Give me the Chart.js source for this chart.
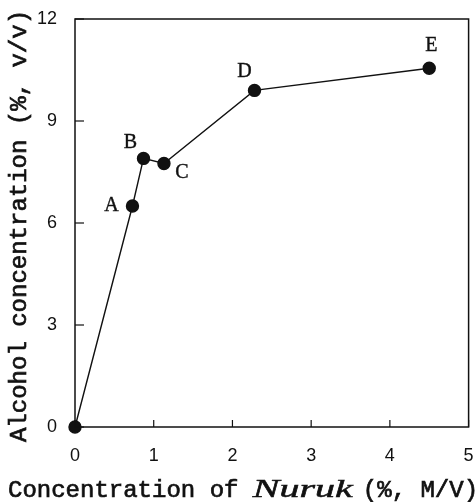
<!DOCTYPE html>
<html>
<head>
<meta charset="utf-8">
<script src="https://cdn.jsdelivr.net/npm/chart.js@4.4.1/dist/chart.umd.min.js"></script>
<style>
  body { margin: 0; background: #fff; }
  #wrap { width: 476px; height: 502px; }
</style>
</head>
<body>
<div id="wrap"><canvas id="nurukChart" width="476" height="502"></canvas></div>
<script>
// data
const nurukConc = [0, 0.73, 0.87, 1.13, 2.28, 4.5];
const alcoholConc = [0, 6.5, 7.9, 7.75, 9.9, 10.55];
const pointNames = ['', 'A', 'B', 'C', 'D', 'E'];
const xTicks = [0, 1, 2, 3, 4, 5];
const yTicks = [0, 3, 6, 9, 12];

// label offsets from the point centre (dx, dy)
const labelOffsets = [[0, 0], [-21, 0], [-13, -16], [18, 9], [-10, -19], [2, -23]];

const INK = '#111';

// text with a thin outline so it looks a bit heavier than regular
function heavyText(ctx, text, x, y) {
  ctx.fillText(text, x, y);
  ctx.strokeText(text, x, y);
}

// frame, inward ticks, point labels and axis titles
const paperPlugin = {
  id: 'paper',
  afterDraw(chart) {
    const ctx = chart.ctx;
    const area = chart.chartArea;
    const xs = chart.scales.x;
    const ys = chart.scales.y;

    ctx.save();
    ctx.strokeStyle = INK;
    ctx.lineWidth = 1.5;
    ctx.strokeRect(area.left, area.top, area.right - area.left, area.bottom - area.top);

    ctx.lineWidth = 1.2;
    yTicks.forEach(v => {
      const py = ys.getPixelForValue(v);
      ctx.beginPath();
      ctx.moveTo(area.left, py);
      ctx.lineTo(area.left + 9, py);
      ctx.stroke();
    });
    xTicks.forEach(v => {
      const px = xs.getPixelForValue(v);
      ctx.beginPath();
      ctx.moveTo(px, area.bottom);
      ctx.lineTo(px, area.bottom - 7);
      ctx.stroke();
    });

    // point letters
    const meta = chart.getDatasetMeta(0);
    ctx.fillStyle = INK;
    ctx.lineWidth = 0.4;
    ctx.font = '20px "Liberation Serif"';
    ctx.textAlign = 'center';
    ctx.textBaseline = 'middle';
    meta.data.forEach((pt, i) => {
      if (!pointNames[i]) return;
      heavyText(ctx, pointNames[i], pt.x + labelOffsets[i][0], pt.y + labelOffsets[i][1]);
    });

    // y title, rotated
    ctx.lineWidth = 0.7;
    ctx.save();
    ctx.translate(20, 226);
    ctx.rotate(-Math.PI / 2);
    ctx.font = '24px "Liberation Mono"';
    ctx.textAlign = 'center';
    ctx.textBaseline = 'middle';
    heavyText(ctx, 'Alcohol concentration (%, v/v)', 0, 0);
    ctx.restore();

    // x title with italic Nuruk
    ctx.textAlign = 'left';
    ctx.textBaseline = 'alphabetic';
    const base = 497;
    ctx.font = '24px "Liberation Mono"';
    const part1 = 'Concentration of ';
    heavyText(ctx, part1, 8, base);
    let x = 8 + ctx.measureText(part1).width;
    ctx.font = 'italic 25px "Liberation Serif"';
    const w = ctx.measureText('Nuruk').width;
    const stretch = 100 / w;
    ctx.save();
    ctx.translate(x, base);
    ctx.scale(stretch, 1);
    ctx.lineWidth = 0.5;
    heavyText(ctx, 'Nuruk', 0, 0);
    ctx.restore();
    x += 100 + 10;
    ctx.font = '24px "Liberation Mono"';
    heavyText(ctx, '(%, M/V)', x, base);
    ctx.restore();
  }
};

const ctx = document.getElementById('nurukChart');
new Chart(ctx.getContext('2d'), {
  type: 'scatter',
  data: {
    datasets: [{
      data: nurukConc.map((x, i) => ({ x: x, y: alcoholConc[i] })),
      showLine: true,
      borderColor: INK,
      borderWidth: 1.4,
      backgroundColor: INK,
      pointRadius: 6,
      pointBackgroundColor: INK,
      pointBorderColor: INK,
      clip: false
    }]
  },
  options: {
    responsive: false,
    animation: false,
    layout: { padding: { top: 19, right: 4, left: 0, bottom: 0 } },
    plugins: {
      legend: { display: false },
      tooltip: { enabled: false }
    },
    scales: {
      x: {
        type: 'linear',
        min: 0,
        max: 5,
        afterFit: s => { s.height = 75; s.paddingLeft = 0; s.paddingRight = 0; },
        afterBuildTicks: s => { s.ticks = xTicks.map(v => ({ value: v })); },
        grid: { display: false },
        border: { display: false },
        ticks: {
          color: INK,
          padding: 10,
          maxRotation: 0,
          font: { family: 'Liberation Sans', size: 18 }
        }
      },
      y: {
        type: 'linear',
        min: 0,
        max: 12,
        afterFit: s => { s.width = 75; s.paddingTop = 0; s.paddingBottom = 0; },
        afterBuildTicks: s => { s.ticks = yTicks.map(v => ({ value: v })); },
        grid: { display: false },
        border: { display: false },
        ticks: {
          color: INK,
          padding: 10,
          font: { family: 'Liberation Sans', size: 18 }
        }
      }
    }
  },
  plugins: [paperPlugin]
});
</script>
</body>
</html>
